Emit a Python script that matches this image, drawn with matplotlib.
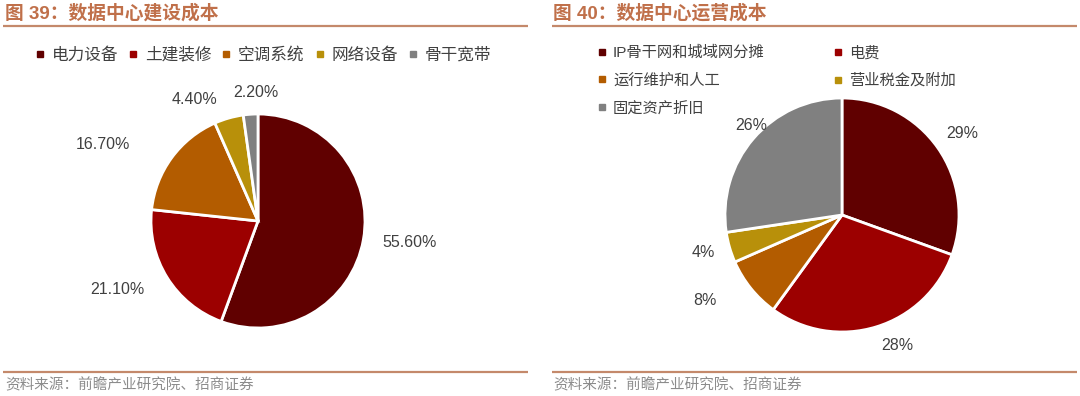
import numpy as np
import matplotlib.pyplot as plt
from matplotlib.lines import Line2D

plt.rcParams['font.family'] = ['Liberation Sans', 'Noto Sans CJK SC', 'DejaVu Sans']

# left: construction cost
build_labels = ['电力设备', '土建装修', '空调系统', '网络设备', '骨干宽带']
build_values = [55.6, 21.1, 16.7, 4.4, 2.2]
build_text = ['55.60%', '21.10%', '16.70%', '4.40%', '2.20%']

# right: operating cost
ops_labels = ['IP骨干网和城域网分摊', '电费', '运行维护和人工', '营业税金及附加', '固定资产折旧']
ops_values = [29, 28, 8, 4, 26]
ops_text = ['29%', '28%', '8%', '4%', '26%']

colors = ['#600000', '#9C0000', '#B35C00', '#B8900A', '#808080']
line_c = '#C4896B'
title_c = '#C0704A'
text_c = '#404040'

W, H = 1080, 396
fig = plt.figure(figsize=(W / 100, H / 100), dpi=100)
ax = fig.add_axes([0, 0, 1, 1])


def py(y):
    # pixel row (from top) -> data y
    return H - y


def draw_pie(ax, values, texts, cx, cy, r, dists, nudges):
    wedges, _ = ax.pie(values, colors=colors, startangle=90, counterclock=False,
                       center=(cx, py(cy)), radius=r,
                       wedgeprops=dict(edgecolor='white', linewidth=2))
    for w, t, d, dn in zip(wedges, texts, dists, nudges):
        mid = np.deg2rad((w.theta1 + w.theta2) / 2 + dn)
        ax.text(cx + d * r * np.cos(mid), py(cy) + d * r * np.sin(mid), t,
                ha='center', va='center', fontsize=11.5, color=text_c)
    return wedges


draw_pie(ax, build_values, build_text, 258, 221, 107,
         [1.43, 1.46, 1.62, 1.28, 1.2], [2, -6, 10, 12, -3])
draw_pie(ax, ops_values, ops_text, 842, 215, 117,
         [1.24, 1.21, 1.38, 1.23, 1.09], [-1, 6, -7, -1, -4])

ax.set_xlim(0, W)
ax.set_ylim(0, H)
ax.set_aspect('equal')
ax.axis('off')

# titles and rules
ax.text(5, py(13), '图 39：数据中心建设成本', fontsize=13.5, fontweight='bold',
        color=title_c, ha='left', va='center')
ax.text(553, py(13), '图 40：数据中心运营成本', fontsize=13.5, fontweight='bold',
        color=title_c, ha='left', va='center')
for x0, x1 in [(3, 528), (552, 1077)]:
    ax.plot([x0, x1], [py(26), py(26)], color=line_c, lw=1.6, solid_capstyle='butt')
    ax.plot([x0, x1], [py(372), py(372)], color=line_c, lw=1.6, solid_capstyle='butt')
for x0 in [5, 553]:
    ax.text(x0, py(385), '资料来源：前瞻产业研究院、招商证券', fontsize=10.5,
            color='#8C8C8C', ha='left', va='center', family=['Noto Sans CJK SC'])


def handles(idx):
    return [Line2D([], [], marker='s', ls='none', markersize=4.5, color=colors[i])
            for i in idx]


leg1 = ax.legend(handles(range(5)), build_labels, loc='center', ncol=5,
                 bbox_to_anchor=(263, py(55)), bbox_transform=ax.transData,
                 frameon=False, handlelength=0.6, handletextpad=0.4,
                 columnspacing=0.6, labelcolor=text_c,
                 prop=dict(family=['Noto Sans CJK SC'], size=12))
ax.add_artist(leg1)
# row-major order in the picture; legend fills column by column
order = [0, 2, 4, 1, 3]
ax.legend(handles(order), [ops_labels[i] for i in order], loc='upper left', ncol=2,
          bbox_to_anchor=(584, py(32)), bbox_transform=ax.transData,
          frameon=False, handlelength=0.6, handletextpad=0.4,
          columnspacing=4.5, labelspacing=0.88, labelcolor=text_c,
          prop=dict(family=['Liberation Sans', 'Noto Sans CJK SC'], size=11))

fig.savefig('out.png', dpi=100)
